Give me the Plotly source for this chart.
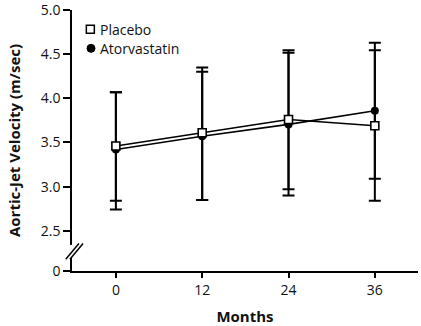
import plotly.graph_objects as go

months = [0, 12, 24, 36]
placebo = [3.46, 3.61, 3.76, 3.69]
placebo_hi = [4.07, 4.35, 4.545, 4.545]
placebo_lo = [2.84, 2.85, 2.97, 2.84]
atorva = [3.42, 3.57, 3.705, 3.86]
atorva_hi = [4.07, 4.30, 4.515, 4.63]
atorva_lo = [2.74, 2.85, 2.90, 3.09]

y_zero = 2.045  # position where the "0" (broken-axis) tick sits
ytick_vals = [y_zero, 2.5, 3.0, 3.5, 4.0, 4.5, 5.0]
ytick_text = ["0", "2.5", "3.0", "3.5", "4.0", "4.5", "5.0"]
xtick_vals = [0, 12, 24, 36]
legend_names = ["Placebo", "Atorvastatin"]

FONT = "Open Sans"
TXT = "#111111"

def err(mean, hi, lo):
    return dict(type="data", symmetric=False,
                array=[h - m for h, m in zip(hi, mean)],
                arrayminus=[m - l for m, l in zip(mean, lo)],
                color="black", thickness=2, width=6)

fig = go.Figure()
fig.add_trace(go.Scatter(
    x=months, y=atorva, mode="lines+markers", name="Atorvastatin",
    line=dict(color="black", width=1.6),
    marker=dict(symbol="circle", size=8, color="black"),
    error_y=err(atorva, atorva_hi, atorva_lo), showlegend=False))
fig.add_trace(go.Scatter(
    x=months, y=placebo, mode="lines+markers", name="Placebo",
    line=dict(color="black", width=1.6),
    marker=dict(symbol="square", size=8, color="white",
                line=dict(color="black", width=1.6)),
    error_y=err(placebo, placebo_hi, placebo_lo), showlegend=False))

# legend (drawn as key symbols + text)
fig.add_shape(type="rect", xref="paper", yref="paper",
              xsizemode="pixel", ysizemode="pixel",
              xanchor=0.053, yanchor=0.926, x0=-4, x1=4, y0=-4, y1=4,
              line=dict(color="black", width=1.5), fillcolor="white")
fig.add_shape(type="circle", xref="paper", yref="paper",
              xsizemode="pixel", ysizemode="pixel",
              xanchor=0.055, yanchor=0.853, x0=-4, x1=4, y0=-4, y1=4,
              line=dict(color="black", width=1), fillcolor="black")
for name, yy in zip(legend_names, [0.926, 0.853]):
    fig.add_annotation(text=name, xref="paper", yref="paper",
                       x=0.076, y=yy, xanchor="left", yanchor="middle",
                       showarrow=False,
                       font=dict(size=14, family=FONT, color=TXT))

# axis break marks
fig.add_shape(type="line", xref="paper", yref="paper",
              x0=0, x1=0, y0=0.05, y1=0.1,
              line=dict(color="white", width=4))
for off in (0.0, 0.012):
    fig.add_shape(type="line", xref="paper", yref="paper",
                  x0=-0.018 + off, x1=0.02 + off,
                  y0=0.045, y1=0.105,
                  line=dict(color="black", width=1.5))

fig.update_layout(
    width=421, height=326,
    margin=dict(l=72, r=3, t=10, b=55),
    paper_bgcolor="white", plot_bgcolor="white",
    font=dict(family=FONT, size=14, color=TXT),
    showlegend=False,
    xaxis=dict(range=[-6.1, 42], tickvals=xtick_vals, automargin=False,
               showgrid=False, zeroline=False, showline=True,
               linecolor="black", linewidth=1.6,
               ticks="outside", ticklen=5, tickwidth=1.5, tickcolor="black",
               tickfont=dict(size=14, family=FONT, color=TXT),
               title=dict(text="<b>Months</b>",
                          font=dict(size=15, family=FONT, color=TXT),
                          standoff=15)),
    yaxis=dict(range=[y_zero, 5.0], tickvals=ytick_vals, ticktext=ytick_text,
               automargin=False, ticklabeloverflow="allow",
               showgrid=False, zeroline=False, showline=True,
               linecolor="black", linewidth=1.6,
               ticks="outside", ticklen=7, tickwidth=1.5, tickcolor="black",
               tickfont=dict(size=14, family=FONT, color=TXT),
               title=dict(text="<b>Aortic-Jet Velocity (m/sec)</b>",
                          font=dict(size=15, family=FONT, color=TXT),
                          standoff=16)),
)

fig.write_html("out.html", config={"displayModeBar": False},
               post_script="document.body.style.margin='0';document.body.style.overflow='hidden';")
